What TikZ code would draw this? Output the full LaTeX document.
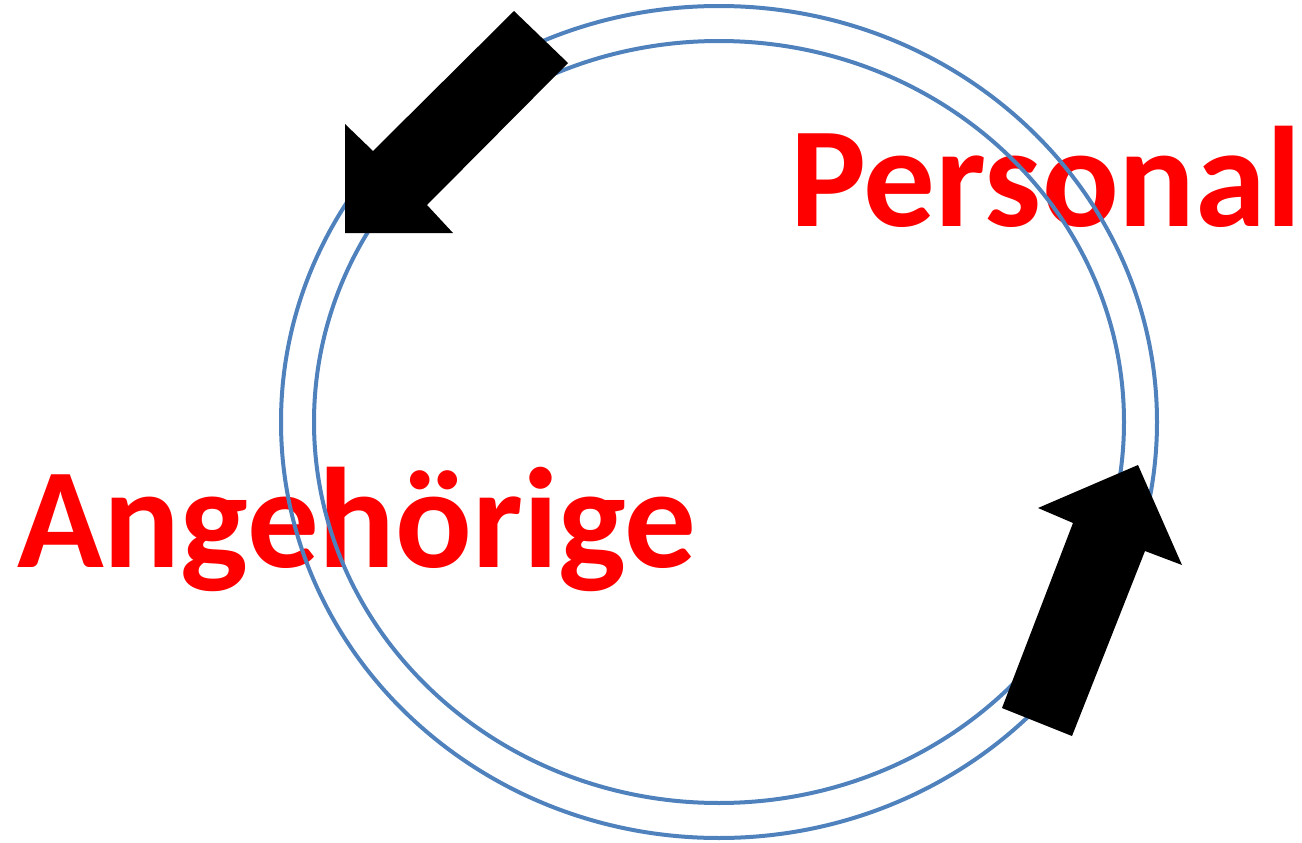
\documentclass[tikz,border=0pt]{standalone}
\usepackage{fontspec}
\setmainfont{Carlito}
\definecolor{ringblue}{RGB}{79,129,189}
\begin{document}
\begin{tikzpicture}[x=1pt,y=-1pt,
  lbl/.style={text=red, font=\bfseries\fontsize{143}{150}\selectfont, inner sep=0pt, anchor=base west},
  ring/.style={draw=ringblue, line width=4pt},
  blockarrow/.style={fill=black, draw=none}]
\useasboundingbox (0,0) rectangle (1302,843);
\node[lbl] (personal) at (790,226) {Personal};
\node[lbl] (angehoerige) at (17,567) {Angehörige};
\draw[ring] (719,422) ellipse [x radius=438pt, y radius=416pt];
\draw[ring] (719,422) ellipse [x radius=405pt, y radius=381pt];
\fill[blockarrow] (514,11) -- (568,63) -- (427,205) -- (453,233) -- (345,233) -- (345,124) -- (373,151) -- cycle;
\fill[blockarrow] (1002,708) -- (1073,523) -- (1038,508) -- (1138,465) -- (1182,565) -- (1145,551) -- (1072,736) -- cycle;
\end{tikzpicture}
\end{document}
